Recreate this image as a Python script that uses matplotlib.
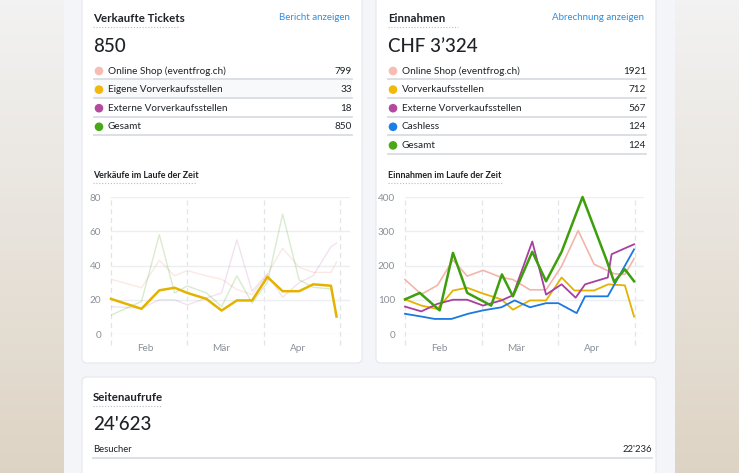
import matplotlib.pyplot as plt
from matplotlib.patches import FancyBboxPatch, Rectangle, Circle
import numpy as np

W, H = 739, 473
FONT = ["Lato", "DejaVu Sans"]

# --- data -------------------------------------------------------------
ticket_labels = ["Online Shop (eventfrog.ch)", "Eigene Vorverkaufsstellen",
                 "Externe Vorverkaufsstellen", "Gesamt"]
ticket_totals = ["799", "33", "18", "850"]

revenue_labels = ["Online Shop (eventfrog.ch)", "Vorverkaufsstellen",
                  "Externe Vorverkaufsstellen", "Cashless", "Gesamt"]
revenue_totals = ["1921", "712", "567", "124", "124"]

month_labels = ["Feb", "Mär", "Apr"]

# days since start of the period
ticket_days = [0, 12, 19, 25, 30, 37.5, 43.5, 49.5, 55.5, 61.5, 67.5, 74, 79.5, 86.5, 88.7]
tickets_online = [32, 27, 43, 34, 37, 34, 32, 26, 23, 35, 50, 39, 36, 36, 42]
tickets_eigene = [20.5, 14.7, 25.5, 27, 24, 20.5, 13.7, 19.6, 19.6, 33.3, 25, 25, 29, 28.2, 10.2]
tickets_extern = [16, 15, 20, 20, 17, 21, 24, 55, 25, 35, 21.5, 30, 34, 51, 53]
tickets_gesamt = [11, 19, 58, 24, 28, 24, 16, 34, 18, 30, 70, 31.6, 27.3, 26.3, 11]

rev_online_days = [0, 6.4, 12.7, 18.8, 24.4, 30.6, 37.8, 42.3, 49, 55.3, 61.4, 67.9, 74.1, 82, 86.2, 89.8]
rev_online = [159, 116, 142, 216, 169, 186, 165, 159, 129, 129, 198, 302, 204, 176, 174, 220]
rev_vvk_days = [0, 6.4, 12.7, 18.8, 24.4, 30.6, 37.8, 42.3, 49, 55.3, 61.4, 66.4, 74.1, 79.7, 86.2, 89.8]
rev_vvk = [101, 83, 73, 127, 135, 118, 101, 71, 98, 98, 165, 127, 127, 145, 142, 51]
rev_extern_days = [0, 6.4, 12.7, 18.8, 24.4, 30.6, 37.8, 42.3, 49.9, 55.3, 61.4, 66.9, 70.6, 79.5, 81, 89.8]
rev_extern = [80, 66, 88, 100, 100, 83, 98, 113, 270, 115, 145, 106, 145, 165, 233, 262]
rev_cashless_days = [0, 6.4, 11.6, 18.2, 24.7, 30.6, 37.8, 43, 49, 55.3, 60.1, 67.3, 70.6, 79.5, 89.8]
rev_cashless = [59, 51, 44, 44, 59, 69, 78, 98, 78, 90, 90, 61, 110, 110, 247]
rev_gesamt_days = [0, 5.8, 13.6, 18.8, 24.4, 33.8, 38, 42.3, 49.9, 55.3, 61.4, 69.6, 79, 82, 86.2, 89.8]
rev_gesamt = [101, 120, 69, 237, 120, 83, 174, 110, 240, 154, 240, 400, 216, 152, 189, 154]

PINK, YELLOW, PURPLE, BLUE, GREEN = "#f4b5aa", "#e3b300", "#a8409e", "#1a78e0", "#3e9e0c"
DOTS = ["#f7bcb3", "#f0b90b", "#b44a9e", "#1c7fe8", "#48a818"]
TEXT = "#1f2328"
GREY = "#8a9099"
LINK = "#2d8fe0"


def fig_box(x0, y0, x1, y1):
    return [x0 / W, 1 - y1 / H, (x1 - x0) / W, (y1 - y0) / H]


def card(bg, x0, y0, x1, y1):
    bg.add_patch(FancyBboxPatch((x0, y0), x1 - x0, y1 - y0,
                                boxstyle="round,pad=0,rounding_size=5",
                                fc="white", ec="#e3e7ec", lw=0.8, zorder=2))


def titled(bg, x, y, s, size, x_end):
    bg.text(x, y, s, fontsize=size, fontweight="bold", color=TEXT,
            va="center", ha="left", family=FONT, zorder=3)
    bg.plot([x, x_end], [y + 8.5, y + 8.5], color="#b8bec6", lw=0.8,
            ls=(0, (1, 1.6)), zorder=3)


def rows(bg, x0, x1, y0, labels, values, colors):
    for i, (lab, val) in enumerate(zip(labels, values)):
        y = y0 + i * 18.6
        bg.add_patch(Circle((x0 + 5, y), 3.6, color=colors[i], zorder=3))
        bg.text(x0 + 14, y, lab, fontsize=7.2, color=TEXT, va="center",
                family=FONT, zorder=3)
        bg.text(x1, y, val, fontsize=7.2, color=TEXT, va="center", ha="right",
                family=FONT, zorder=3)
        bg.plot([x0, x1], [y + 8.5, y + 8.5], color="#d9dde3", lw=1.3, zorder=3)


def style_chart(ax, ymax, step, xmax):
    ax.set_xlim(0, xmax)
    ax.set_ylim(0, ymax)
    for s in ax.spines.values():
        s.set_visible(False)
    ax.set_yticks(np.arange(0, ymax + 1, step))
    ax.grid(axis="y", color="#eceef1", lw=1)
    for d in [0, 30, 60, 90]:
        ax.axvline(d, ymin=-0.08, ymax=1, color="#e1e4e8", lw=0.9,
                   ls=(0, (4, 3)), clip_on=False, zorder=0)
    ax.set_xticks([13.5, 43.5, 73.5])
    ax.set_xticklabels(month_labels)
    ax.tick_params(length=0, labelsize=7.2, labelcolor=GREY)
    ax.tick_params(axis="y", pad=7)
    ax.tick_params(axis="x", pad=7)
    for lab in ax.get_xticklabels() + ax.get_yticklabels():
        lab.set_family(FONT)
    ax.set_facecolor("none")


fig = plt.figure(figsize=(W / 100, H / 100), dpi=100)
bg = fig.add_axes([0, 0, 1, 1])
bg.set_xlim(0, W)
bg.set_ylim(H, 0)
bg.axis("off")

# outer background: soft grey-to-beige gradient on both sides
top = np.array([0.95, 0.95, 0.95])
bot = np.array([0.87, 0.83, 0.77])
t = np.linspace(0, 1, 200)[:, None, None]
grad = top * (1 - t) + bot * t
bg.imshow(grad, extent=(0, W, H, 0), aspect="auto", zorder=0)
bg.add_patch(Rectangle((64, 0), 675 - 64, H, fc="#f3f5f8", ec="none", zorder=1))

# cards
card(bg, 82, -10, 362, 363)
card(bg, 376, -10, 656, 363)
card(bg, 82, 377, 656, H + 10)

# left card
titled(bg, 93, 19, "Verkaufte Tickets", 8.3, 179)
bg.text(350, 18, "Bericht anzeigen", fontsize=7, color=LINK, ha="right",
        va="center", family=FONT, zorder=3)
bg.text(93, 46, "850", fontsize=13.5, fontweight="medium", color=TEXT,
        va="center", family=FONT, zorder=3)
bg.add_patch(Rectangle((94, 80.5), 258, 17, fc="#f8f9fb", ec="none", zorder=2))
rows(bg, 94, 352, 71, ticket_labels, ticket_totals,
     [DOTS[0], DOTS[1], DOTS[2], DOTS[4]])
titled(bg, 93, 175, "Verkäufe im Laufe der Zeit", 6.4, 197)

# right card
titled(bg, 388, 19, "Einnahmen", 8.3, 458)
bg.text(644, 18, "Abrechnung anzeigen", fontsize=7, color=LINK, ha="right",
        va="center", family=FONT, zorder=3)
bg.text(388, 46, "CHF 3\u2019324", fontsize=13.5, fontweight="medium", color=TEXT,
        va="center", family=FONT, zorder=3)
rows(bg, 388, 646, 71, revenue_labels, revenue_totals, DOTS)
titled(bg, 388, 175, "Einnahmen im Laufe der Zeit", 6.4, 502)

# bottom card
titled(bg, 93, 397, "Seitenaufrufe", 8.3, 161)
bg.text(93, 424, "24'623", fontsize=13.5, fontweight="medium", color=TEXT,
        va="center", family=FONT, zorder=3)
bg.text(93, 449, "Besucher", fontsize=6.8, color=TEXT, va="center", family=FONT, zorder=3)
bg.text(652, 449, "22'236", fontsize=6.8, color=TEXT, va="center", ha="right",
        family=FONT, zorder=3)
bg.plot([93, 652], [458, 458], color="#d9dde3", lw=1.3, zorder=3)

# tickets chart
ax1 = fig.add_axes(fig_box(111, 197, 350, 334))
style_chart(ax1, 80, 20, 94)
ax1.plot(ticket_days, tickets_online, color=PINK, lw=1, alpha=0.3)
ax1.plot(ticket_days, tickets_extern, color=PURPLE, lw=1, alpha=0.15)
ax1.plot(ticket_days, tickets_gesamt, color=GREEN, lw=1, alpha=0.2)
ax1.plot(ticket_days, tickets_eigene, color=YELLOW, lw=1.8, clip_on=False)

# revenue chart
ax2 = fig.add_axes(fig_box(405, 197, 644, 334))
style_chart(ax2, 400, 100, 93.7)
ax2.plot(rev_online_days, rev_online, color=PINK, lw=1.2, clip_on=False)
ax2.plot(rev_vvk_days, rev_vvk, color=YELLOW, lw=1.3, clip_on=False)
ax2.plot(rev_extern_days, rev_extern, color=PURPLE, lw=1.3, clip_on=False)
ax2.plot(rev_cashless_days, rev_cashless, color=BLUE, lw=1.3, clip_on=False)
ax2.plot(rev_gesamt_days, rev_gesamt, color=GREEN, lw=1.8, clip_on=False)

fig.savefig("out.png", dpi=100)
